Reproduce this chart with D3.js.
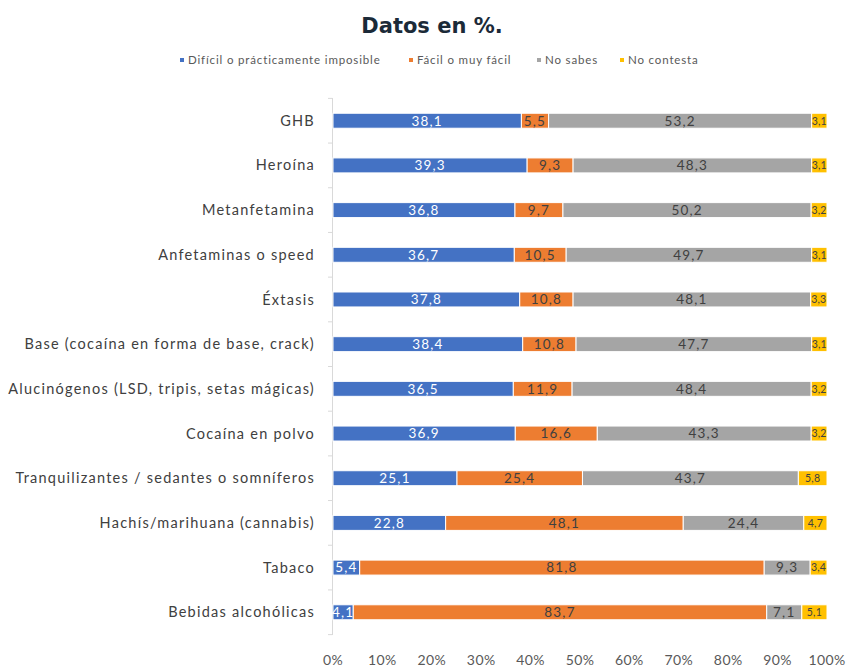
<!DOCTYPE html>
<html lang="es">
<head>
<meta charset="utf-8">
<script src="https://cdn.jsdelivr.net/npm/d3@7"></script>
<style>
  html, body { margin: 0; padding: 0; background: #fff; }
  svg { display: block; }
</style>
</head>
<body>
<svg id="chart" width="863" height="667"></svg>
<script>
// Substances, top to bottom
const categories = [
  "GHB",
  "Heroína",
  "Metanfetamina",
  "Anfetaminas o speed",
  "Éxtasis",
  "Base (cocaína en forma de base, crack)",
  "Alucinógenos (LSD, tripis, setas mágicas)",
  "Cocaína en polvo",
  "Tranquilizantes / sedantes o somníferos",
  "Hachís/marihuana (cannabis)",
  "Tabaco",
  "Bebidas alcohólicas"
];

const seriesNames = ["Difícil o prácticamente imposible", "Fácil o muy fácil", "No sabes", "No contesta"];

const dificil    = [38.1, 39.3, 36.8, 36.7, 37.8, 38.4, 36.5, 36.9, 25.1, 22.8, 5.4, 4.1];
const facil      = [5.5, 9.3, 9.7, 10.5, 10.8, 10.8, 11.9, 16.6, 25.4, 48.1, 81.8, 83.7];
const noSabes    = [53.2, 48.3, 50.2, 49.7, 48.1, 47.7, 48.4, 43.3, 43.7, 24.4, 9.3, 7.1];
const noContesta = [3.1, 3.1, 3.2, 3.1, 3.3, 3.1, 3.2, 3.2, 5.8, 4.7, 3.4, 5.1];

const xTicks = [0, 0.1, 0.2, 0.3, 0.4, 0.5, 0.6, 0.7, 0.8, 0.9, 1];

const colors = ["#4472C4", "#ED7D31", "#A5A5A5", "#FFC000"];
const labelColors = ["#ffffff", "#404040", "#404040", "#404040"];

const keys = ["d", "f", "s", "c"];
const rows = categories.map((name, i) => ({
  name, d: dificil[i], f: facil[i], s: noSabes[i], c: noContesta[i]
}));

const svg = d3.select("#chart");
const font = "Lato, 'Open Sans', sans-serif";

const left = 333, right = 827;
const x = d3.scaleLinear().domain([0, 1]).range([left, right]);
const y = d3.scaleBand().domain(categories).range([98.5, 634.5]).paddingInner(0.665).paddingOuter(0.33);

const stacked = d3.stack().keys(keys).offset(d3.stackOffsetExpand)(rows);

// Title (second line)
svg.append("text")
  .attr("x", 432).attr("y", 33)
  .attr("text-anchor", "middle")
  .attr("font-family", "'DejaVu Sans', sans-serif")
  .attr("font-weight", 700)
  .attr("font-size", 21)
  .attr("fill", "#1b2a38")
  .text("Datos en %.");

// Legend
const legendX = [180, 409, 537, 620];
const legend = svg.append("g").attr("font-family", font).attr("font-size", 11.5)
  .attr("letter-spacing", 0.85).attr("fill", "#595959");
seriesNames.forEach((n, i) => {
  legend.append("rect").attr("x", legendX[i]).attr("y", 58).attr("width", 4).attr("height", 4).attr("fill", colors[i]);
  legend.append("text").attr("x", legendX[i] + 8).attr("y", 64).text(n);
});

// Category axis line with ticks
const band = y.step();
svg.append("line")
  .attr("x1", left - 0.5).attr("x2", left - 0.5)
  .attr("y1", 98).attr("y2", 635)
  .attr("stroke", "#d9d9d9").attr("stroke-width", 1);
const tickYs = categories.map(c => y(c) + y.bandwidth() / 2 - band / 2)
  .concat([y(categories[categories.length - 1]) + y.bandwidth() / 2 + band / 2]);
svg.append("g").selectAll("line").data(tickYs).join("line")
  .attr("x1", left - 5).attr("x2", left - 0.5)
  .attr("y1", d => d).attr("y2", d => d)
  .attr("stroke", "#d9d9d9");

// Category labels
svg.append("g").selectAll("text").data(categories).join("text")
  .attr("x", 315)
  .attr("y", d => y(d) + y.bandwidth() / 2)
  .attr("dy", "0.35em")
  .attr("text-anchor", "end")
  .attr("font-family", font)
  .attr("font-size", 14.5)
  .attr("letter-spacing", 1.25)
  .attr("fill", "#404040")
  .text(d => d);

// Stacked bars with centred value labels
const fmt = v => d3.format(".1f")(v).replace(".", ",");
stacked.forEach((layer, li) => {
  const g = svg.append("g");
  g.selectAll("rect").data(layer).join("rect")
    .attr("x", d => x(d[0]))
    .attr("y", d => y(d.data.name))
    .attr("width", d => Math.max(0, x(d[1]) - x(d[0])))
    .attr("height", y.bandwidth())
    .attr("fill", colors[li])
    .attr("stroke", "#fff")
    .attr("stroke-width", 1);
  g.selectAll("text").data(layer).join("text")
    .attr("x", d => (x(d[0]) + x(d[1])) / 2)
    .attr("y", d => y(d.data.name) + y.bandwidth() / 2)
    .attr("dy", "0.36em")
    .attr("text-anchor", "middle")
    .attr("font-family", font)
    .attr("font-size", li === 3 ? 10.5 : 13.5)
    .attr("letter-spacing", li === 3 ? 0.2 : 1.2)
    .attr("fill", labelColors[li])
    .text(d => fmt(d.data[keys[li]]));
});

// Value axis labels
svg.append("g").selectAll("text").data(xTicks).join("text")
  .attr("x", d => x(d))
  .attr("y", 665)
  .attr("text-anchor", "middle")
  .attr("font-family", font)
  .attr("font-size", 14)
  .attr("letter-spacing", 0.4)
  .attr("fill", "#595959")
  .text(d => d3.format(".0%")(d));
</script>
</body>
</html>
